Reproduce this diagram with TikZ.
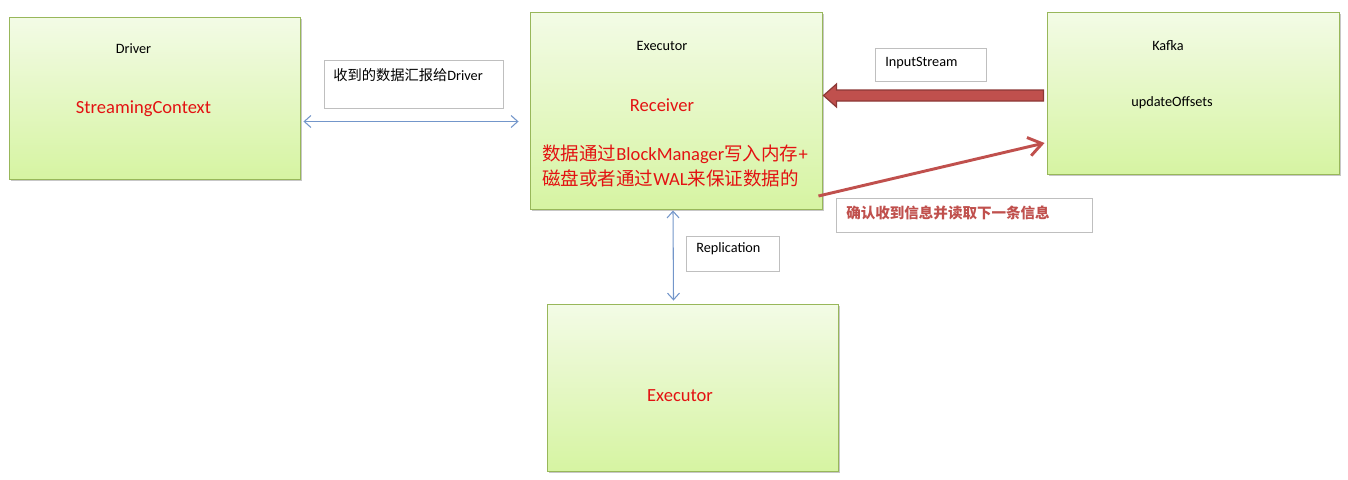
\documentclass[tikz,border=0pt]{standalone}
\usepackage{fontspec}
\setmainfont{Carlito}
\newfontfamily\cjk{Noto Sans CJK SC}
\usetikzlibrary{arrows.meta,calc,shadows}
\definecolor{gruen}{HTML}{D6F4A2}
\definecolor{gruenh}{HTML}{F3FBE6}
\definecolor{gruenr}{HTML}{98B75A}
\definecolor{rot}{HTML}{C0504D}
\definecolor{rotd}{HTML}{8C3836}
\definecolor{textrot}{HTML}{E31212}
\definecolor{blau}{HTML}{7396CA}
\definecolor{hgrau}{HTML}{BFBFBF}
\tikzset{
  box/.style={draw=gruenr,line width=0.7pt,top color=gruenh,bottom color=gruen,
    drop shadow={shadow xshift=1.2pt,shadow yshift=-1.5pt,fill=black,opacity=0.22}},
  tag/.style={draw=hgrau,fill=white,line width=0.6pt},
  txt/.style={inner sep=0pt,font=\fontsize{10.7pt}{13pt}\selectfont},
  rottxt/.style={inner sep=0pt,text=textrot,font=\fontsize{13.9pt}{18.75pt}\selectfont},
  acktxt/.style={inner sep=0pt,text=rot,font=\fontsize{10.9pt}{13pt}\selectfont\cjk\bfseries},
  link/.style={{Straight Barb[length=5pt,width=9pt]}-{Straight Barb[length=5pt,width=9pt]},blau,line width=0.8pt},
  ackpfeil/.style={-{Straight Barb[length=10pt,width=14pt]},rot,line width=2.2pt},
  fett/.style={fill=rot,draw=rotd,line width=0.9pt,line join=miter},
}
\begin{document}
\begin{tikzpicture}[x=0.75pt,y=-0.75pt]
  \useasboundingbox (0,0) rectangle (1348,479);
  % boxes
  \node[box,minimum width=218.25pt,minimum height=121.5pt] (drv) at (154.5,98) {};
  \node[box,minimum width=219pt,minimum height=147.75pt] (exe) at (676,110.5) {};
  \node[box,minimum width=219pt,minimum height=121.5pt] (kaf) at (1193,93) {};
  \node[box,minimum width=218.25pt,minimum height=125.25pt] (rep) at (692.5,387.5) {};
  % label boxes
  \node[tag,minimum width=134.25pt,minimum height=36pt] (rptbox) at (413.5,84) {};
  \node[tag,minimum width=83.25pt,minimum height=24.75pt] (isbox) at (930.5,65) {};
  \node[tag,minimum width=192pt,minimum height=25.5pt] (ackbox) at (964,215) {};
  \node[tag,minimum width=69.75pt,minimum height=26.25pt] (replbox) at (732.5,253.5) {};
  % texts
  \node[txt] (drvname) at (133.5,49) {Driver};
  \node[rottxt] (ssc) at (143.5,109) {StreamingContext};
  \node[txt] (exename) at (662,46) {Executor};
  \node[rottxt] (rcv) at (662,105) {Receiver};
  \node[rottxt,anchor=west,align=left] (bm) at (542,165.5)
    {{\cjk 数据通过}BlockManager{\cjk 写入内存}+\\{\cjk 磁盘或者通过}WAL{\cjk 来保证数据的}};
  \node[txt] (kafname) at (1168,46) {Kafka};
  \node[txt] (offs) at (1172,103) {updateOffsets};
  \node[rottxt] (repname) at (680,396) {Executor};
  \node[txt,anchor=west] (rpt) at (333,75) {{\cjk 收到的数据汇报给}Driver};
  \node[txt,anchor=west] (is) at (885,63) {InputStream};
  \node[acktxt,anchor=west] (ack) at (846,213) {确认收到信息并读取下一条信息};
  \node[txt,anchor=west] (repl) at (696,249) {Replication};
  % connectors
  \draw[link] ($(drv.east)+(3,23.5)$) -- ($(exe.west)+(-11,11)$);
  \draw[link] ($(exe.south)+(-3,1)$) -- ($(rep.north)+(-19,-3)$);
  \draw[ackpfeil] ($(exe.east)+(-4,85.5)$) -- ($(kaf.west)+(-2,50)$);
  \coordinate (fs) at ($(kaf.west)+(-3,2.5)$);
  \coordinate (fz) at ($(exe.east |- fs)+(1,0)$);
  \filldraw[fett] ($(fs)+(0,-5.5)$) -- ($(fz)+(13,-5.5)$) -- ($(fz)+(13,-11.5)$) -- (fz)
    -- ($(fz)+(13,11.5)$) -- ($(fz)+(13,5.5)$) -- ($(fs)+(0,5.5)$) -- cycle;
\end{tikzpicture}
\end{document}
